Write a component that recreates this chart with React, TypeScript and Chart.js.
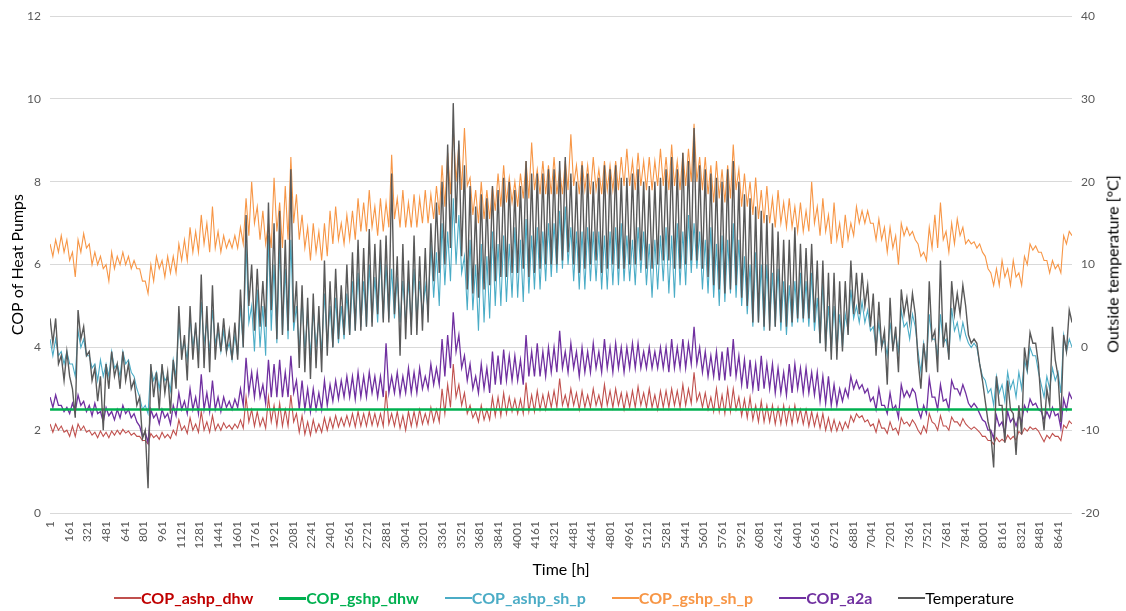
import React, { useEffect, useRef } from "react";
import { Chart, registerables } from "chart.js";

Chart.register(...registerables);

// Hourly year (8760 h) read off the picture as daily peaks and troughs:
// each 48 h block has one upper value (at its start) and one lower value (24 h later).
const BLOCK_H = 48;
const TROUGH_OFFSET_H = 24;

const gshpShPHigh = [
  6.5, 6.6, 6.7, 6.6, 6.3, 6.6, 6.75, 6.5, 6.3, 6.2,
  6.0, 6.3, 6.2, 6.3, 6.2, 6.1, 5.9, 5.6, 6.0, 6.2,
  6.1, 6.2, 6.2, 6.5, 6.6, 6.9, 6.8, 7.2, 7.0, 7.4,
  6.8, 6.7, 6.6, 6.7, 6.9, 7.6, 8.0, 7.4, 7.3, 7.0,
  8.1, 7.5, 7.9, 8.6, 7.7, 7.2, 6.9, 7.0, 6.8, 7.0,
  7.3, 7.4, 7.0, 7.2, 7.3, 7.6, 7.5, 7.8, 7.4, 7.6,
  7.5, 8.65, 7.6, 7.8, 7.5, 7.7, 7.6, 7.8, 7.7, 7.9,
  8.4, 8.7, 9.3, 8.9, 9.3, 8.1, 7.8, 8.0, 7.8, 7.9,
  8.2, 8.4, 8.1, 8.0, 8.2, 8.5, 8.95, 8.3, 8.5, 8.4,
  8.6, 8.3, 8.5, 9.15, 8.4, 8.5, 8.4, 8.6, 8.3, 8.5,
  8.4, 8.5, 8.6, 8.8, 8.5, 8.7, 8.5, 8.6, 8.5, 8.8,
  8.6, 8.9, 8.5, 8.7, 8.8, 9.4, 8.6, 8.6, 8.4, 8.5,
  8.3, 8.4, 8.9, 8.3, 8.2, 8.0, 8.1, 7.8, 7.9, 7.6,
  7.8, 7.5, 7.6, 7.4, 7.5, 7.3, 8.0, 7.4, 7.6, 7.2,
  7.5, 7.0, 7.2, 7.0, 7.4, 7.3, 7.3, 7.0, 7.1, 6.9,
  6.9, 6.7, 7.0, 6.9, 6.8, 6.5, 6.3, 6.9, 7.2, 7.5,
  6.8, 7.0, 7.1, 6.9, 6.6, 6.55, 6.5, 6.2, 5.8, 5.9,
  6.1, 5.9, 6.1, 5.8, 6.2, 6.5, 6.45, 6.3, 6.1, 6.1,
  6.0, 6.7, 6.8,
];
const gshpShPLow = [
  6.2, 6.3, 6.3, 6.1, 5.7, 6.3, 6.4, 6.0, 6.0, 5.9,
  5.6, 5.9, 6.0, 6.0, 5.9, 5.9, 5.6, 5.3, 5.6, 5.9,
  5.7, 5.8, 5.8, 6.1, 6.1, 6.3, 6.3, 6.5, 6.3, 6.4,
  6.3, 6.4, 6.4, 6.4, 6.5, 6.7, 7.0, 6.6, 6.5, 6.4,
  6.8, 6.4, 6.6, 7.0, 6.6, 6.4, 6.1, 6.3, 6.1, 6.2,
  6.5, 6.6, 6.5, 6.6, 6.6, 6.8, 6.8, 6.9, 6.7, 6.8,
  6.9, 7.1, 6.9, 6.9, 6.9, 6.9, 7.0, 7.0, 7.1, 7.2,
  7.4, 7.7, 8.0, 7.8, 7.9, 7.2, 7.0, 7.1, 7.1, 7.3,
  7.4, 7.5, 7.5, 7.4, 7.6, 7.6, 7.8, 7.7, 7.7, 7.7,
  7.7, 7.7, 7.8, 7.9, 7.7, 7.8, 7.7, 7.8, 7.7, 7.8,
  7.8, 7.8, 7.9, 7.9, 7.8, 7.9, 7.8, 7.8, 7.9, 7.9,
  7.8, 7.9, 7.8, 7.9, 8.0, 8.0, 7.8, 7.7, 7.5, 7.6,
  7.5, 7.6, 7.8, 7.4, 7.4, 7.2, 7.1, 7.0, 7.0, 6.9,
  7.0, 6.9, 6.9, 6.8, 6.8, 6.8, 7.0, 6.7, 6.8, 6.5,
  6.6, 6.4, 6.6, 6.7, 7.0, 7.0, 7.0, 6.6, 6.6, 6.3,
  6.4, 6.0, 6.7, 6.7, 6.6, 6.2, 6.1, 6.4, 6.4, 6.6,
  6.3, 6.5, 6.7, 6.5, 6.5, 6.4, 6.3, 5.9, 5.5, 5.5,
  5.7, 5.5, 5.7, 5.5, 6.0, 6.35, 6.3, 6.1, 5.8, 5.9,
  5.8, 6.5, 6.7,
];

const ashpShPHigh = [
  4.2, 4.2, 3.9, 3.9, 3.6, 4.4, 4.2, 3.8, 3.6, 3.7,
  3.6, 3.9, 3.6, 3.9, 3.7, 3.3, 2.8, 2.6, 3.5, 3.4,
  3.5, 3.3, 3.7, 4.6, 4.1, 4.7, 4.5, 5.1, 4.6, 4.9,
  4.4, 4.4, 4.1, 4.3, 5.0, 6.5, 5.0, 5.4, 5.0, 6.7,
  6.0, 6.5, 5.9, 6.6, 5.0, 5.2, 4.8, 4.9, 4.7, 5.3,
  5.0, 5.2, 5.0, 5.3, 5.6, 5.8, 5.6, 6.0, 5.7, 6.2,
  6.0, 5.9, 5.7, 5.6, 5.6, 5.9, 5.6, 5.5, 6.5, 6.3,
  7.0, 6.8, 7.6, 7.2, 6.2, 6.6, 6.0, 6.5, 6.2, 6.8,
  6.5, 6.7, 6.5, 6.9, 6.6, 7.1, 6.7, 6.9, 6.8, 7.0,
  7.0, 7.3, 7.4, 6.9, 6.8, 6.8, 6.9, 6.8, 6.8, 6.7,
  6.8, 6.9, 7.0, 6.7, 6.6, 6.9, 6.8, 6.5, 6.6, 6.7,
  6.9, 6.7, 7.0, 6.8, 7.2, 7.0, 6.8, 6.6, 6.9, 6.5,
  6.7, 6.6, 7.0, 6.6, 6.2, 6.0, 6.3, 6.0, 6.0, 5.8,
  5.9, 5.6, 5.5, 5.6, 5.8, 5.6, 5.8, 5.2, 5.6, 5.0,
  5.0, 4.8, 4.8, 5.4, 5.0, 5.1, 4.9, 4.5, 4.6, 4.2,
  4.6, 4.3, 4.9, 4.6, 4.8, 3.9, 4.1, 4.8, 4.2, 4.8,
  4.2, 4.95, 4.6, 4.6, 4.1, 4.1, 3.6, 3.2, 3.0, 3.3,
  3.1, 3.4, 3.2, 3.4, 3.7, 4.0, 3.8, 3.1, 3.3, 3.5,
  3.4, 4.3, 4.2,
];
const ashpShPLow = [
  3.8, 3.8, 3.6, 3.6, 3.3, 4.0, 3.8, 3.5, 3.2, 3.3,
  3.3, 3.5, 3.3, 3.6, 3.4, 3.0, 2.5, 2.4, 3.2, 3.0,
  3.2, 2.95, 3.3, 3.9, 3.7, 4.0, 3.8, 4.1, 3.9, 4.1,
  3.9, 3.9, 3.7, 3.8, 4.0, 4.6, 3.9, 4.0, 3.8, 4.4,
  4.1, 4.3, 4.2, 4.4, 3.9, 3.9, 3.8, 4.0, 3.9, 4.0,
  4.0, 4.1, 4.2, 4.3, 4.4, 4.5, 4.5, 4.6, 4.6, 4.7,
  4.7, 4.7, 4.6, 4.6, 4.5, 4.7, 4.8, 4.9, 5.2, 5.0,
  5.5, 5.6, 6.0, 5.8, 4.9, 4.9, 4.4, 4.6, 4.7, 5.0,
  5.0, 5.1, 5.2, 5.2, 5.1, 5.3, 5.4, 5.4, 5.6, 5.7,
  5.8, 5.9, 6.0, 5.6, 5.4, 5.4, 5.6, 5.6, 5.4, 5.4,
  5.5, 5.5, 5.6, 5.6, 5.5, 5.8, 5.5, 5.2, 5.4, 5.6,
  5.3, 5.2, 5.5, 5.5, 5.8, 5.9, 5.4, 5.3, 5.2, 5.0,
  5.1, 5.3, 5.2, 5.0, 4.8, 4.5, 4.6, 4.4, 4.5, 4.5,
  4.4, 4.3, 4.5, 4.6, 4.6, 4.5, 4.4, 4.1, 4.0, 3.9,
  3.9, 4.0, 4.4, 4.7, 4.6, 4.6, 4.4, 4.0, 4.0, 3.8,
  4.0, 3.9, 4.5, 4.2, 4.5, 3.4, 3.6, 4.2, 3.8, 4.1,
  3.8, 4.4, 4.2, 4.3, 4.0, 4.0, 3.3, 2.9, 2.6, 2.9,
  2.7, 3.0, 2.8, 3.0, 3.4, 3.8, 3.4, 2.8, 3.0, 3.2,
  2.9, 3.9, 4.0,
];

const a2aHigh = [
  2.8, 2.85, 2.6, 2.55, 2.65, 2.85, 2.7, 2.6, 2.65, 2.45,
  2.55, 2.45, 2.5, 2.6, 2.5, 2.4, 2.1, 1.95, 2.5, 2.4,
  2.5, 2.4, 2.6, 2.9, 2.7, 3.0, 2.8, 3.35, 2.9, 3.2,
  2.8, 2.8, 2.7, 2.75, 3.0, 3.75, 3.4, 3.4, 3.1, 3.7,
  3.6, 3.7, 3.4, 3.8, 3.2, 3.2, 3.0, 3.0, 2.9, 3.2,
  3.1, 3.2, 3.2, 3.3, 3.3, 3.4, 3.3, 3.4, 3.3, 3.3,
  4.1, 3.3, 3.4, 3.3, 3.5, 3.4, 3.5, 3.3, 3.6, 3.5,
  4.2, 4.3, 4.85, 4.3, 3.8, 3.6, 3.3, 3.6, 3.5, 3.9,
  3.8, 3.95, 3.8, 3.8, 3.7, 4.3, 3.9, 4.1, 3.9, 4.0,
  4.0, 4.4, 3.9, 4.1, 3.9, 4.0, 3.9, 4.1, 3.9, 4.2,
  4.0, 4.1, 4.0, 4.0, 4.1, 4.1, 3.9, 4.0, 3.9, 4.0,
  4.0, 4.2, 4.0, 4.2, 4.1, 4.5, 4.0, 3.9, 3.8, 3.9,
  3.9, 4.0, 4.2, 3.8, 3.7, 3.7, 3.6, 3.8, 3.6, 3.6,
  3.5, 3.4, 3.6, 3.6, 3.5, 3.5, 3.4, 3.4, 3.3, 3.3,
  3.1, 3.0, 3.0, 3.3, 3.2, 3.1, 3.0, 2.8, 3.0, 2.6,
  2.9, 2.6, 3.1, 2.95, 3.0, 2.5, 2.6, 3.25, 2.8, 3.1,
  2.75, 3.2, 3.0, 3.1, 2.65, 2.65, 2.4, 2.2, 2.0, 2.35,
  2.2, 2.45, 2.3, 2.35, 2.6, 2.75, 2.65, 2.45, 2.45, 2.55,
  2.4, 2.75, 2.9,
];
const a2aLow = [
  2.55, 2.6, 2.45, 2.4, 2.45, 2.6, 2.45, 2.35, 2.4, 2.2,
  2.35, 2.25, 2.3, 2.4, 2.3, 2.2, 1.85, 1.7, 2.3, 2.15,
  2.3, 2.15, 2.35, 2.5, 2.4, 2.5, 2.4, 2.5, 2.45, 2.5,
  2.45, 2.55, 2.5, 2.55, 2.6, 2.9, 2.8, 2.8, 2.65, 2.8,
  2.8, 2.8, 2.8, 2.9, 2.5, 2.5, 2.45, 2.5, 2.5, 2.6,
  2.7, 2.75, 2.8, 2.8, 2.75, 2.8, 2.8, 2.9, 2.8, 2.8,
  2.9, 2.9, 2.85, 2.9, 2.9, 2.9, 3.0, 3.0, 3.1, 3.1,
  3.3, 3.5, 3.9, 3.5, 3.2, 3.0, 2.9, 3.0, 2.9, 3.1,
  3.1, 3.2, 3.2, 3.2, 3.1, 3.3, 3.3, 3.3, 3.3, 3.4,
  3.4, 3.5, 3.4, 3.5, 3.3, 3.4, 3.4, 3.5, 3.4, 3.5,
  3.4, 3.5, 3.4, 3.5, 3.5, 3.5, 3.5, 3.5, 3.5, 3.5,
  3.4, 3.5, 3.5, 3.5, 3.6, 3.6, 3.4, 3.3, 3.3, 3.2,
  3.2, 3.3, 3.3, 3.1, 3.0, 3.0, 2.95, 3.0, 3.0, 2.9,
  2.9, 2.85, 2.9, 3.0, 2.9, 2.9, 2.85, 2.7, 2.65, 2.6,
  2.6, 2.7, 2.8, 3.0, 3.0, 2.9, 2.7, 2.5, 2.6, 2.4,
  2.5, 2.3, 2.8, 2.8, 2.9, 2.3, 2.4, 2.8, 2.5, 2.7,
  2.5, 3.0, 2.85, 2.9, 2.55, 2.55, 2.25, 2.0, 1.8, 2.1,
  1.9, 2.2, 2.1, 2.2, 2.45, 2.6, 2.5, 2.25, 2.3, 2.35,
  2.05, 2.5, 2.75,
];

const ashpDhwHigh = [
  2.15, 2.15, 2.1, 2.0, 2.1, 2.15, 2.1, 2.0, 1.95, 1.98,
  1.95, 1.98, 2.0, 2.02, 1.98, 1.93, 1.85, 1.75, 1.92, 1.88,
  1.95, 1.9, 2.0, 2.25, 2.1, 2.3, 2.15, 2.45, 2.2, 2.35,
  2.15, 2.18, 2.12, 2.15, 2.25, 2.8, 2.5, 2.45, 2.3, 2.8,
  2.6, 2.65, 2.5, 2.85, 2.4, 2.35, 2.2, 2.25, 2.15, 2.3,
  2.3, 2.35, 2.3, 2.35, 2.4, 2.45, 2.4, 2.45, 2.4, 2.4,
  2.95, 2.4, 2.45, 2.35, 2.45, 2.45, 2.5, 2.4, 2.55, 2.5,
  3.0, 3.1, 3.6, 3.1, 2.9, 2.6, 2.45, 2.6, 2.5, 2.8,
  2.8, 2.9, 2.8, 2.75, 2.75, 3.15, 2.85, 2.95, 2.85, 2.9,
  2.95, 3.25, 2.85, 3.0, 2.9, 2.95, 2.85, 3.0, 2.85, 3.1,
  2.95, 3.0, 2.9, 2.9, 2.95, 3.05, 2.9, 3.0, 2.85, 2.95,
  2.95, 3.0, 2.95, 3.1, 3.0, 3.4, 2.9, 2.9, 2.8, 3.0,
  2.85, 3.0, 3.0, 2.8, 2.75, 2.8, 2.6, 2.7, 2.6, 2.6,
  2.55, 2.6, 2.55, 2.6, 2.5, 2.5, 2.45, 2.4, 2.4, 2.3,
  2.25, 2.2, 2.2, 2.35, 2.4, 2.35, 2.25, 2.15, 2.25, 2.05,
  2.2, 2.05, 2.3, 2.2, 2.25, 2.0, 2.1, 2.4, 2.15, 2.35,
  2.1, 2.32, 2.2, 2.28, 2.08, 2.08, 1.95, 1.85, 1.75, 1.82,
  1.78, 1.88, 1.85, 1.97, 2.05, 2.08, 2.05, 1.85, 1.88, 1.92,
  1.85, 2.12, 2.22,
];
const ashpDhwLow = [
  1.95, 2.0, 1.95, 1.85, 1.85, 2.0, 1.95, 1.88, 1.82, 1.85,
  1.82, 1.88, 1.9, 1.93, 1.88, 1.85, 1.75, 1.67, 1.82, 1.78,
  1.82, 1.8, 1.88, 2.0, 1.92, 2.0, 1.95, 2.0, 1.95, 2.0,
  2.0, 2.05, 2.02, 2.05, 2.05, 2.2, 2.1, 2.1, 2.05, 2.2,
  2.1, 2.1, 2.1, 2.2, 1.95, 1.9, 1.88, 1.95, 1.95, 2.0,
  2.05, 2.08, 2.1, 2.1, 2.08, 2.1, 2.1, 2.12, 2.1, 2.1,
  2.15, 2.1, 2.05, 2.0, 2.1, 2.1, 2.15, 2.15, 2.2, 2.2,
  2.4, 2.55, 2.8, 2.6, 2.4, 2.3, 2.2, 2.25, 2.25, 2.35,
  2.35, 2.4, 2.45, 2.4, 2.4, 2.45, 2.45, 2.5, 2.5, 2.55,
  2.55, 2.6, 2.55, 2.6, 2.5, 2.55, 2.55, 2.6, 2.55, 2.6,
  2.55, 2.6, 2.5, 2.55, 2.55, 2.6, 2.55, 2.55, 2.5, 2.55,
  2.55, 2.6, 2.55, 2.6, 2.65, 2.7, 2.55, 2.5, 2.45, 2.45,
  2.4, 2.45, 2.5, 2.35, 2.3, 2.25, 2.2, 2.2, 2.2, 2.15,
  2.15, 2.15, 2.15, 2.2, 2.15, 2.1, 2.1, 2.05, 2.0, 1.98,
  1.98, 2.0, 2.05, 2.2, 2.3, 2.2, 2.1, 1.95, 2.05, 1.92,
  2.0, 1.9, 2.15, 2.1, 2.15, 1.9, 1.95, 2.2, 2.0, 2.1,
  2.0, 2.2, 2.1, 2.15, 2.02, 2.02, 1.85, 1.75, 1.66, 1.72,
  1.72, 1.78, 1.76, 1.9, 1.98, 2.02, 1.98, 1.72, 1.8, 1.85,
  1.75, 2.05, 2.15,
];

// Constant ground-source DHW COP over the whole year
const gshpDhwHours = [1, 8760];
const gshpDhwCop = [2.5, 2.5];

// Outside temperature [°C]
const temperatureHigh = [
  3.5, 3.5, -1, -0.5, -5, 4.5, 2.5, -0.5, -2.5, -3.5,
  -2, -0.5, -2, -0.5, -2, -4, -6, -10, -2, -3,
  -2, -3, -1.5, 5, 1.5, 5, 3, 8.8, 5, 7.5,
  3, 3.5, 2, 3, 7, 16, 10, 9.5, 8, 17.5,
  15, 16.5, 13, 21.5, 8, 7.5, 6, 6.5, 5, 10.5,
  8, 9.5, 7.5, 10, 11.5, 13, 12, 14.3, 12.5, 13,
  13.5, 21, 11, 12.5, 10.5, 13.5, 11, 12, 15, 17.5,
  20, 24.5, 29.5, 25, 22, 19.5, 17, 18.5, 18, 19.5,
  19, 20.5, 20, 19, 19.5, 22.5, 21, 21, 21, 21.5,
  21.5, 22.5, 23, 21, 20, 22, 21, 20, 20.5, 22,
  21.5, 22, 20.5, 20.5, 21, 21.5, 20, 19.5, 20, 20.5,
  21.5, 23, 21.5, 23.5, 22.5, 26.5, 22, 21.5, 21, 20.5,
  20, 21.5, 22.5, 20, 18.5, 18, 17, 16.5, 16, 15,
  14, 13, 13, 14.5, 12.5, 12, 12.5, 10.5, 10.5, 9,
  9, 8, 8, 10.5, 9, 9, 7.5, 6.5, 5.5, 2,
  6, 2.5, 7, 6, 6.5, -1.5, 0.5, 8, 2, 10.5,
  3, 8, 6.5, 7.5, 1.5, 1, -2, -6.5, -10.5, -3.5,
  -7, -4, -8, -7, 0, 1.8, 0.5, -7, -5, 2.5,
  -3.5, 1.5, 4.5,
];
const temperatureLow = [
  0.5, -2, -4, -3.5, -8.5, 1, -1, -4, -6.5, -10,
  -5, -3.5, -5, -4, -5, -7, -11, -17, -6, -7.5,
  -5.5, -8, -5, -1.5, -4, -1.5, -2.5, -2.5, -3, -1.5,
  -0.5, -0.5, -1.5, -1.5, 0, 5, 2, 2.5, 2.5, 4.5,
  1, 1.5, 2, 3, -2.5, -3, -3.8, -2.5, -3, -1,
  0, 1, 1.5, 1.5, 2, 2, 2.5, 2.5, 4, 3,
  3, 4, -1, 1, 1.5, 1.5, 2, 3, 8, 9,
  10, 12, 15, 11, 7, 6.5, 6, 7, 7.5, 8,
  8.5, 8.5, 9, 9, 9.5, 8.5, 9, 9.5, 10, 10,
  10, 10.5, 11.5, 10, 9, 9.5, 10, 10.5, 9, 9.5,
  10, 9.5, 9.5, 10, 10, 10.5, 9.5, 9.5, 10, 10.5,
  10.5, 9.5, 9.5, 10, 10.5, 10.5, 9.5, 8.5, 7.5, 7,
  6.5, 7, 7.5, 6, 5, 3, 3, 2.5, 2, 2.5,
  3, 2.5, 3, 3.5, 3.5, 3.5, 3, 0.5, -0.5, -1.5,
  -1.5, -0.5, 1.5, 4, 4, 5, 2.5, -1, 0, -4.5,
  -0.5, -3, 4, 3, 4, -5, -3, 1, -3, 0,
  -1.5, 4, 4, 5, 0.5, 0.5, -4, -9, -14.5, -7,
  -11.5, -7.5, -13, -10.5, -2.5, 0.5, -2, -10, -7, -1.5,
  -9, -0.5, 3,
];

const xTickLabels = [
  1, 161, 321, 481, 641, 801, 961, 1121, 1281, 1441, 1601, 1761, 1921, 2081,
  2241, 2401, 2561, 2721, 2881, 3041, 3201, 3361, 3521, 3681, 3841, 4001, 4161,
  4321, 4481, 4641, 4801, 4961, 5121, 5281, 5441, 5601, 5761, 5921, 6081, 6241,
  6401, 6561, 6721, 6881, 7041, 7201, 7361, 7521, 7681, 7841, 8001, 8161, 8321,
  8481, 8641,
];

// Builds the hourly series table: peak at block start, trough 24 h later
const peaksAndTroughs = (high: number[], low: number[]) =>
  high.flatMap((h, i) => [
    { x: 1 + i * BLOCK_H, y: h },
    { x: 1 + i * BLOCK_H + TROUGH_OFFSET_H, y: low[i] },
  ]);

const LEGEND = [
  { label: "COP_ashp_dhw", line: "#C0504D", text: "#C00000", weight: 700, thick: 1.5 },
  { label: "COP_gshp_dhw", line: "#00B050", text: "#00B050", weight: 700, thick: 3 },
  { label: "COP_ashp_sh_p", line: "#4BACC6", text: "#4BACC6", weight: 700, thick: 1.5 },
  { label: "COP_gshp_sh_p", line: "#F79646", text: "#F79646", weight: 700, thick: 1.5 },
  { label: "COP_a2a", line: "#7030A0", text: "#7030A0", weight: 700, thick: 1.5 },
  { label: "Temperature", line: "#595959", text: "#000000", weight: 400, thick: 1.5 },
];

export default function App() {
  const canvasRef = useRef<HTMLCanvasElement | null>(null);

  useEffect(() => {
    const canvas = canvasRef.current;
    if (!canvas) return;
    Chart.defaults.font.family = "Lato";
    const chart = new Chart(canvas, {
      type: "line",
      data: {
        datasets: [
          {
            label: "Temperature",
            data: peaksAndTroughs(temperatureHigh, temperatureLow),
            yAxisID: "y1",
            borderColor: "#595959",
            borderWidth: 1.4,
            order: 0,
          },
          {
            label: "COP_gshp_dhw",
            data: gshpDhwHours.map((h, i) => ({ x: h, y: gshpDhwCop[i] })),
            yAxisID: "y",
            borderColor: "#00B050",
            borderWidth: 2.6,
            order: 1,
          },
          {
            label: "COP_a2a",
            data: peaksAndTroughs(a2aHigh, a2aLow),
            yAxisID: "y",
            borderColor: "#7030A0",
            borderWidth: 1.3,
            order: 2,
          },
          {
            label: "COP_gshp_sh_p",
            data: peaksAndTroughs(gshpShPHigh, gshpShPLow),
            yAxisID: "y",
            borderColor: "#F79646",
            borderWidth: 1.1,
            order: 3,
          },
          {
            label: "COP_ashp_sh_p",
            data: peaksAndTroughs(ashpShPHigh, ashpShPLow),
            yAxisID: "y",
            borderColor: "#4BACC6",
            borderWidth: 1.1,
            order: 4,
          },
          {
            label: "COP_ashp_dhw",
            data: peaksAndTroughs(ashpDhwHigh, ashpDhwLow),
            yAxisID: "y",
            borderColor: "#C0504D",
            borderWidth: 1.1,
            order: 5,
          },
        ],
      },
      options: {
        animation: false,
        responsive: false,
        events: [],
        elements: {
          point: { radius: 0 },
          line: { tension: 0, fill: false },
        },
        layout: { padding: { top: 14, bottom: 30, left: 0, right: 0 } },
        plugins: {
          legend: { display: false },
          tooltip: { enabled: false },
        },
        scales: {
          x: {
            type: "linear",
            min: 0.5,
            max: 8760.5,
            grid: { display: false, drawTicks: false },
            border: { display: false },
            afterBuildTicks: (scale: any) => {
              scale.ticks = xTickLabels.map((v) => ({ value: v }));
            },
            afterFit: (scale: any) => {
              scale.height = 68;
            },
            ticks: {
              autoSkip: false,
              maxRotation: 90,
              minRotation: 90,
              padding: 8,
              color: "#595959",
              font: { size: 12 },
              callback: (v: any) => String(v),
            },
            title: {
              display: true,
              text: "Time [h]",
              color: "#000000",
              font: { size: 16 },
              padding: { top: 0, bottom: 2 },
            },
          },
          y: {
            type: "linear",
            position: "left",
            min: 0,
            max: 12,
            grid: { color: "#D9D9D9", lineWidth: 1, drawTicks: false },
            border: { display: false },
            afterFit: (scale: any) => {
              scale.width = 50;
            },
            ticks: {
              stepSize: 2,
              padding: 9,
              color: "#595959",
              font: { size: 12 },
            },
            title: {
              display: true,
              text: "COP of Heat Pumps",
              color: "#000000",
              font: { size: 16 },
              padding: { top: 8, bottom: 0 },
            },
          },
          y1: {
            type: "linear",
            position: "right",
            min: -20,
            max: 40,
            grid: { display: false, drawTicks: false },
            border: { display: false },
            afterFit: (scale: any) => {
              scale.width = 54;
            },
            ticks: {
              stepSize: 10,
              padding: 9,
              color: "#595959",
              font: { size: 12 },
            },
          },
        },
      },
    });
    return () => chart.destroy();
  }, []);

  return (
    <div
      style={{
        position: "fixed",
        left: 0,
        top: 0,
        width: 1126,
        height: 611,
        background: "#ffffff",
        fontFamily: "Lato, sans-serif",
      }}
    >
      <canvas ref={canvasRef} width={1126} height={611} style={{ display: "block" }} />
      <div
        style={{
          position: "absolute",
          left: 1112,
          top: 264,
          transform: "translate(-50%, -50%) rotate(-90deg)",
          whiteSpace: "nowrap",
          fontSize: 16,
          color: "#000000",
        }}
      >
        Outside temperature [°C]
      </div>
      <div
        style={{
          position: "absolute",
          left: 6,
          top: 588,
          width: 1116,
          height: 20,
          display: "flex",
          justifyContent: "center",
          alignItems: "center",
          gap: 26,
        }}
      >
        {LEGEND.map((item) => (
          <div key={item.label} style={{ display: "flex", alignItems: "center" }}>
            <span
              style={{
                display: "inline-block",
                width: 27,
                height: item.thick,
                background: item.line,
              }}
            />
            <span
              style={{
                fontSize: 16,
                fontWeight: item.weight,
                color: item.text,
                lineHeight: "20px",
              }}
            >
              {item.label}
            </span>
          </div>
        ))}
      </div>
    </div>
  );
}
